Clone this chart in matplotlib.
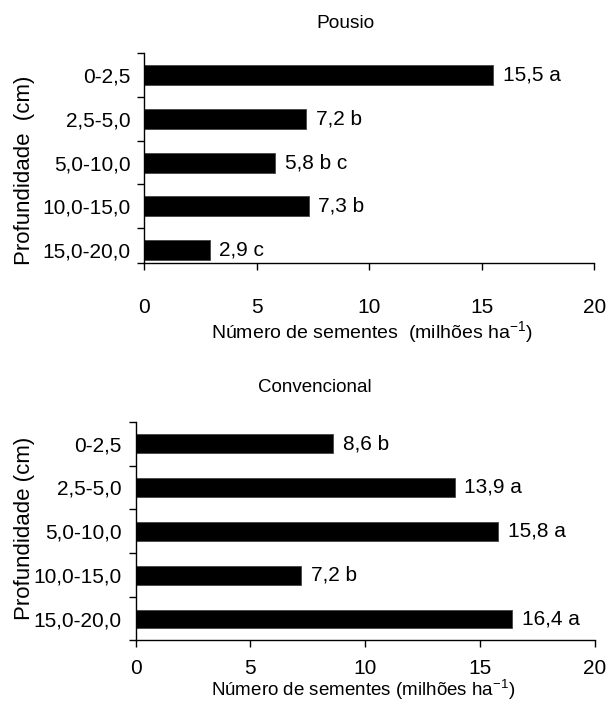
import numpy as np
import matplotlib
matplotlib.use("Agg")
import matplotlib.pyplot as plt
from matplotlib.ticker import FixedLocator

plt.rcParams['font.family'] = ['Liberation Sans', 'DejaVu Sans']
plt.rcParams['mathtext.fontset'] = 'custom'
plt.rcParams['mathtext.rm'] = 'Liberation Sans'
plt.rcParams['mathtext.it'] = 'Liberation Sans:italic'

# data
depths = ['0-2,5', '2,5-5,0', '5,0-10,0', '10,0-15,0', '15,0-20,0']
pousio = [15.5, 7.2, 5.8, 7.3, 2.9]
pousio_letters = ['a', 'b', 'b c', 'b', 'c']
conv = [8.6, 13.9, 15.8, 7.2, 16.4]
conv_letters = ['b', 'a', 'a', 'b', 'a']
xticks = [0, 5, 10, 15, 20]

W, H = 608, 704
fig = plt.figure(figsize=(W / 100, H / 100), dpi=100)


def panel(rect, values, letters, ybottom, barh, xpad):
    #draws one horizontal bar panel in excel style
    ax = fig.add_axes(rect)
    y = np.arange(len(depths))
    ax.barh(y, values, height=barh, color='black', edgecolor='#444444', linewidth=0.6)
    for yi, v, l in zip(y, values, letters):
        txt = ('%.1f' % v).replace('.', ',') + ' ' + l
        ax.annotate(txt, (v, yi), xytext=(7, 0), textcoords='offset points',
                    va='center', ha='left', fontsize=15)
    ax.set_xlim(0, 20)
    ax.set_ylim(ybottom, -0.5)
    ax.set_xticks(xticks)
    ax.set_xticklabels([str(t) for t in xticks], fontsize=15)
    ax.set_yticks(y)
    ax.set_yticklabels(depths, fontsize=15)
    ax.yaxis.set_minor_locator(FixedLocator([-0.5, 0.5, 1.5, 2.5, 3.5, ybottom]))
    ax.tick_params(axis='y', which='major', length=0, pad=10)
    ax.tick_params(axis='y', which='minor', length=5, width=1, direction='out')
    ax.tick_params(axis='x', length=5, width=1, direction='out', pad=xpad)
    for s in ['top', 'right']:
        ax.spines[s].set_visible(False)
    for s in ['left', 'bottom']:
        ax.spines[s].set_linewidth(1)
    return ax


def px(x0, y0, x1, y1):
    return [x0 / W, 1 - y1 / H, (x1 - x0) / W, (y1 - y0) / H]


panel(px(144.3, 53.3, 594.3, 262.7), pousio, pousio_letters, 4.29, 0.46, 20.5)
panel(px(135.7, 421.7, 594.5, 640), conv, conv_letters, 4.48, 0.43, 9)

fig.text(346 / W, 1 - 23 / H, 'Pousio', ha='center', va='center', fontsize=13.8)
fig.text(315 / W, 1 - 388 / H, 'Convencional', ha='center', va='center', fontsize=13.5)
fig.text(372 / W, 1 - 332 / H, r'Número de sementes  (milhões ha$^{\mathrm{-1}}$)',
         ha='center', va='center', fontsize=14)
fig.text(363 / W, 2 / H, r'Número de sementes (milhões ha$^{\mathrm{-1}}$)',
         ha='center', va='bottom', fontsize=13.5)
fig.text(25 / W, 1 - 170 / H, 'Profundidade  (cm)', rotation=90,
         ha='center', va='center', fontsize=16)
fig.text(25 / W, 1 - 528 / H, 'Profundidade (cm)', rotation=90,
         ha='center', va='center', fontsize=16)

fig.savefig('out.png', dpi=100)
